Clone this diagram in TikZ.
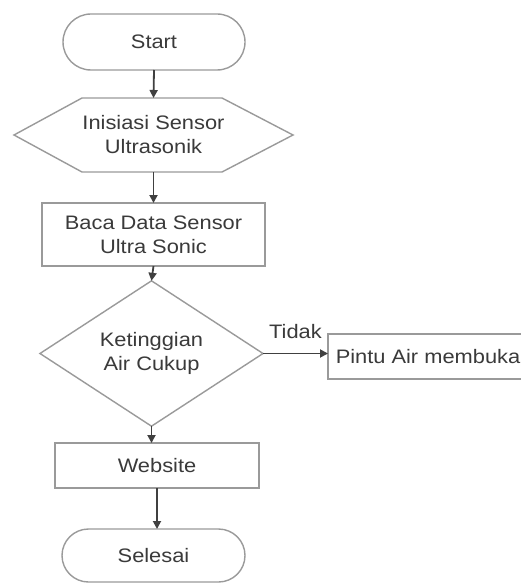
\documentclass[tikz,border=0pt]{standalone}
\usepackage{fontspec}
\setmainfont{Liberation Sans}[FakeStretch=1.12]
\usetikzlibrary{arrows.meta,shapes.geometric,shapes.misc}
\definecolor{shapeline}{HTML}{9A9A9A}
\definecolor{arrowcol}{HTML}{404040}
\definecolor{txtcol}{HTML}{3A3A3A}
\begin{document}
\begin{tikzpicture}[x=1pt,y=-1pt,
  every node/.style={font=\fontsize{19.5}{24}\selectfont, text=txtcol, outer sep=0pt, inner sep=0pt, align=center},
  shapeln/.style={draw=shapeline, line width=1.4pt},
  termbox/.style={shapeln, rounded rectangle},
  procbox/.style={shapeln, rectangle},
  decbox/.style={shapeln, diamond},
  flow/.style={draw=arrowcol, line width=1.8pt, -{Triangle[length=8pt,width=8pt]}},
]
\useasboundingbox[fill=white] (0,0) rectangle (521,583);

\node[termbox, minimum width=182pt, minimum height=56pt] (start) at (154,42) {Start};
\node[minimum width=279pt, minimum height=74pt] (init) at (153.5,135) {Inisiasi Sensor\\Ultrasonik};
\draw[shapeln, line join=miter] (init.west) -- ([xshift=68pt]init.north west) -- ([xshift=-71pt]init.north east) -- (init.east) -- ([xshift=-71pt]init.south east) -- ([xshift=68pt]init.south west) -- cycle;
\node[procbox, minimum width=223pt, minimum height=63pt] (baca) at (153.5,234.5) {Baca Data Sensor\\Ultra Sonic};
\node[decbox, minimum width=223pt, minimum height=135pt] (dec) at (151.5,353.5) {Ketinggian\\Air Cukup};
\node[procbox, minimum width=200pt, minimum height=45pt] (pintu) at (428,356.5) {Pintu Air membuka};
\node[procbox, minimum width=204pt, minimum height=45pt] (web) at (157,465.5) {Website};
\node[termbox, minimum width=183pt, minimum height=53pt] (sel) at (153.5,555.5) {Selesai};

\draw[flow] (start.south) -- (init.north);
\draw[flow] (init.south) -- (baca.north);
\draw[flow] (baca.south) -- (dec.north);
\draw[flow] (dec.east) -- (dec.east -| pintu.west) node[midway, anchor=base, yshift=15pt] (tidak) {Tidak};
\draw[flow] (dec.south) -- (dec.south |- web.north);
\draw[flow] (web.south) -- (web.south |- sel.north);
\end{tikzpicture}
\end{document}
